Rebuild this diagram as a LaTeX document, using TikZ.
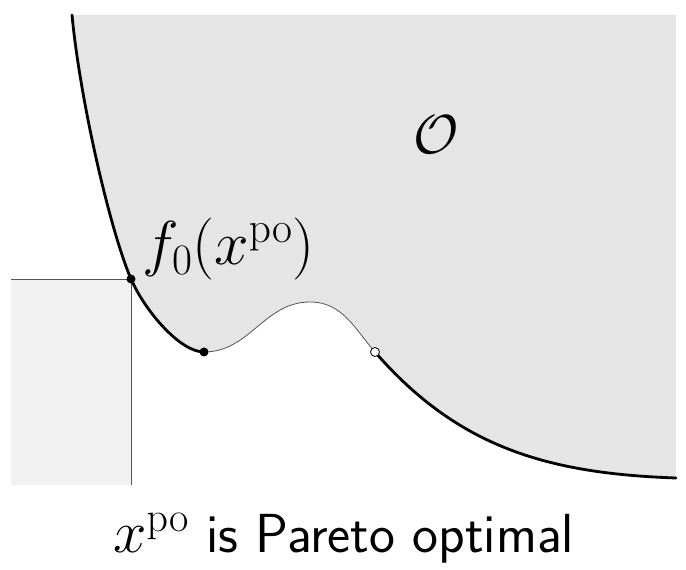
\RequirePackage{fix-cm}
\documentclass[tikz,border=0pt]{standalone}
\usepackage{amsmath,amssymb}
\usetikzlibrary{positioning}
\definecolor{region}{HTML}{E5E5E5}
\definecolor{boxfill}{HTML}{F2F2F2}
\definecolor{edge}{HTML}{555555}
\newcommand{\po}{x^{\mathrm{po}}}
\tikzset{
  front/.style={line width=2.8pt,draw=black,line cap=round},
  bumpline/.style={line width=0.8pt,draw=edge},
  dotfull/.style={circle,fill=black,inner sep=0pt,minimum size=9pt},
  dotopen/.style={circle,draw=black,fill=white,line width=0.8pt,inner sep=0pt,minimum size=9pt},
  biglabel/.style={font=\fontsize{55}{64}\selectfont,inner sep=0pt,anchor=base west}
}

\begin{document}
\begin{tikzpicture}[x=1pt,y=1pt]
  \useasboundingbox (0,0) rectangle (686,570);
  % points on the boundary
  \coordinate (top) at (72,555);
  \coordinate (fpo) at (131,291);
  \coordinate (low) at (204,218);
  \coordinate (peak) at (310,268);
  \coordinate (hole) at (375,218);
  \coordinate (tail) at (676,92);
  % dominated corner
  \fill[boxfill] (11,85) rectangle (fpo);
  \draw[edge,line width=0.8pt] (11,291) -- (fpo) -- (131,85);
  % achievable set
  \fill[region] (top) .. controls (80,470) and (110,340) .. (fpo)
    .. controls (145,259) and (180,218) .. (low)
    to[out=0,in=180] (peak) to[out=0,in=131] (hole)
    to[out=-49,in=178] (tail) -- (676,555) -- cycle;
  \draw[front] (top) .. controls (80,470) and (110,340) .. (fpo)
    .. controls (145,259) and (180,218) .. (low);
  \draw[bumpline] (low) to[out=0,in=180] (peak) to[out=0,in=131] (hole);
  \draw[front] (hole) to[out=-49,in=178] (tail);
  % marks
  \node[dotfull] (fpodot) at (fpo) {};
  \node[dotfull] (lowdot) at (low) {};
  \node[dotopen] (holedot) at (hole) {};
  % labels
  \node[biglabel,font=\fontsize{62}{70}\selectfont] (fpolabel) at (142,305)
    {$f_0(\po)$};
  \node[biglabel] (setlabel) at (413,416) {$\mathcal{O}$};
  \node[biglabel,font=\sffamily\fontsize{55}{64}\selectfont] (caption)
    at (113,17) {{\fontsize{60}{64}\selectfont$\po$} is Pareto optimal};
\end{tikzpicture}
\end{document}
